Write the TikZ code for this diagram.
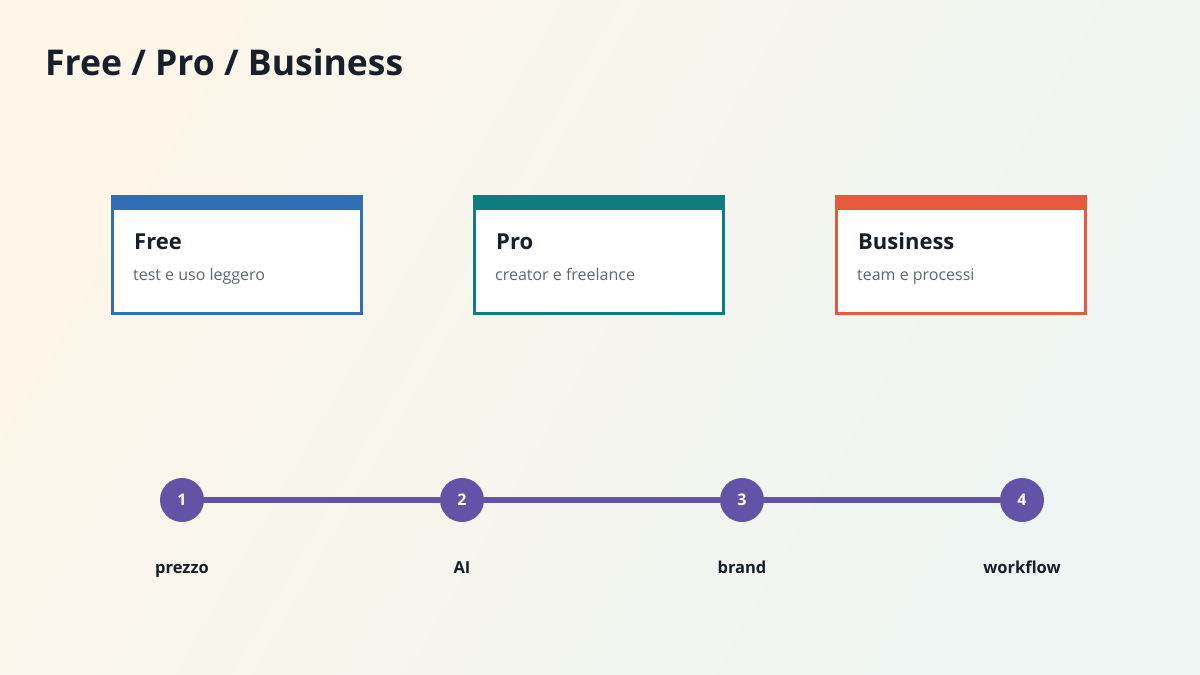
\documentclass[tikz,border=0pt]{standalone}
\usepackage{fontspec}
\setmainfont{Open Sans}
\definecolor{cblue}{HTML}{2F6DB5}
\definecolor{cteal}{HTML}{0E7C80}
\definecolor{corange}{HTML}{E55B3C}
\definecolor{cpurp}{HTML}{6353A6}
\definecolor{ink}{HTML}{17202A}
\definecolor{sub}{HTML}{5F6770}
\begin{document}
\begin{tikzpicture}[x=1pt,y=-1pt,
  card/.style={draw=#1,line width=3pt,fill=white,minimum width=249pt,minimum height=117pt,anchor=north west,inner sep=0pt},
  bar/.style={fill=#1,anchor=north west,minimum width=252pt,minimum height=15pt,inner sep=0pt,outer sep=0pt},
  ttl/.style={anchor=base west,font=\bfseries\fontsize{22}{24}\selectfont,text=ink,inner sep=0pt},
  sb/.style={anchor=base west,font=\fontsize{16}{19}\selectfont,text=sub,inner sep=0pt},
  dot/.style={circle,fill=cpurp,minimum size=44pt,inner sep=0pt,text=white,font=\bfseries\fontsize{16}{18}\selectfont},
  lab/.style={anchor=base,font=\bfseries\fontsize{16.5}{18}\selectfont,text=ink,inner sep=0pt}]
\shade[left color={rgb,255:red,253;green,246;blue,233},right color={rgb,255:red,238;green,245;blue,243},shading angle=60] (0,0) rectangle (1200,675);
\useasboundingbox (0,0) rectangle (1200,675);
\node[anchor=base west,font=\bfseries\fontsize{35.5}{40}\selectfont,text=ink,inner sep=0pt] (title) at (45,75) {Free / Pro / Business};
\foreach \n/\x/\c/\t/\s in {free/111/cblue/Free/test e uso leggero,pro/473/cteal/Pro/creator e freelance,bus/835/corange/Business/team e processi}{
  \node[card=\c] (\n) at (\x,195) {};
  \node[bar=\c] (\n bar) at (\x,195) {};
  \node[ttl] (\n t) at (\x+23,249) {\t};
  \node[sb] (\n s) at (\x+22,280) {\s};
}
\node[dot] (d1) at (182,500) {1};
\node[dot] (d2) at (462,500) {2};
\node[dot] (d3) at (742,500) {3};
\node[dot] (d4) at (1022,500) {4};
\draw[cpurp,line width=6pt] (d1) -- (d2) (d2) -- (d3) (d3) -- (d4);
\node[lab] (l1) at (182,573) {prezzo};
\node[lab] (l2) at (462,573) {AI};
\node[lab] (l3) at (742,573) {brand};
\node[lab] (l4) at (1022,573) {workflow};
\end{tikzpicture}
\end{document}
